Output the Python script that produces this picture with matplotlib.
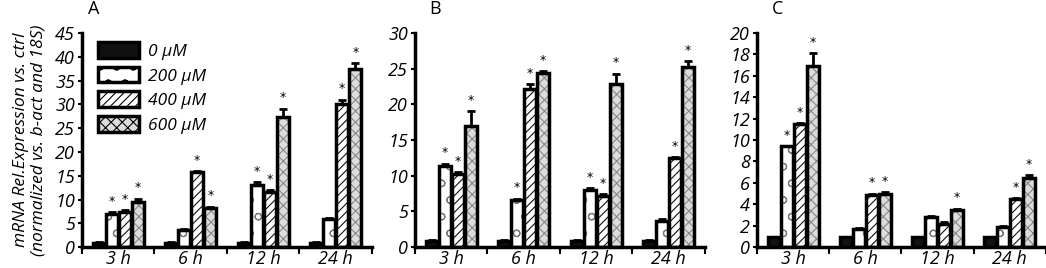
import numpy as np
import matplotlib
matplotlib.use("Agg")
import matplotlib.pyplot as plt
from matplotlib.patches import Patch

plt.rcParams['font.family'] = ['Open Sans', 'DejaVu Sans']
plt.rcParams['hatch.linewidth'] = 0.8

# 数据
times = ['3 h', '6 h', '12 h', '24 h']
doses = ['0 µM', '200 µM', '400 µM', '600 µM']

a_vals = [[0.8, 0.8, 0.8, 0.8],
          [7.0, 3.5, 13.0, 5.9],
          [7.4, 15.7, 11.5, 30.0],
          [9.4, 8.2, 27.3, 37.5]]
a_err = [[0.2, 0.2, 0.2, 0.2],
         [0.3, 0.2, 0.6, 0.3],
         [0.3, 0.3, 0.5, 1.0],
         [0.8, 0.3, 1.8, 1.2]]
a_sig = [[0, 0, 0, 0], [1, 0, 1, 0], [1, 1, 1, 1], [1, 1, 1, 1]]

b_vals = [[0.9, 0.9, 0.9, 0.9],
          [11.4, 6.6, 8.0, 3.7],
          [10.2, 22.2, 7.2, 12.5],
          [17.0, 24.4, 22.8, 25.2]]
b_err = [[0.1, 0.1, 0.1, 0.1],
         [0.3, 0.2, 0.3, 0.2],
         [0.3, 0.6, 0.2, 0.1],
         [2.0, 0.3, 1.5, 0.9]]
b_sig = [[0, 0, 0, 0], [1, 1, 1, 0], [1, 1, 1, 1], [1, 1, 1, 1]]

c_vals = [[0.9, 0.9, 0.9, 0.9],
          [9.4, 1.7, 2.8, 1.9],
          [11.5, 4.9, 2.2, 4.5],
          [16.9, 5.0, 3.5, 6.5]]
c_err = [[0.05, 0.05, 0.05, 0.05],
         [0.05, 0.05, 0.1, 0.1],
         [0.05, 0.1, 0.1, 0.1],
         [1.2, 0.1, 0.1, 0.2]]
c_sig = [[0, 0, 0, 0], [1, 0, 0, 0], [1, 1, 0, 1], [1, 1, 1, 1]]

panels = [('A', a_vals, a_err, a_sig, 45, 5),
          ('B', b_vals, b_err, b_sig, 30, 5),
          ('C', c_vals, c_err, c_sig, 20, 2)]

# 样式
faces = ['#111111', 'white', 'white', '#dcdcdc']
hatches = [None, 'o', '////', 'xxx']
hatch_cols = ['#111111', '#777777', '#111111', '#888888']

fig = plt.figure(figsize=(10.46, 2.68), dpi=100)
lefts = [0.0784, 0.3967, 0.7237]
width = 0.2772
bw = 0.165
step = 0.18

for k, (name, vals, errs, sig, ymax, ystep) in enumerate(panels):
    ax = fig.add_axes([lefts[k], 0.078, width if k < 2 else 0.276, 0.799])
    x = np.arange(len(times))
    for i in range(4):
        pos = x + 0.5 + (i - 1.5) * step
        v = np.array(vals[i])
        e = np.array(errs[i])
        ax.bar(pos, v, bw, color=faces[i], edgecolor=hatch_cols[i],
               hatch=hatches[i], linewidth=0, zorder=2)
        ax.bar(pos, v, bw, color='none', edgecolor='black', linewidth=2.5, zorder=3)
        ax.errorbar(pos, v, yerr=[np.zeros_like(e), e], fmt='none',
                    ecolor='black', elinewidth=2, capsize=3, capthick=2, zorder=4)
        for j in range(4):
            if sig[i][j]:
                ax.text(pos[j], v[j] + e[j] + ymax * 0.02, '*', ha='center',
                        va='bottom', fontsize=9, family='DejaVu Sans')
    ax.set_xlim(0, 4)
    ax.set_ylim(0, ymax)
    ax.set_yticks(np.arange(0, ymax + 0.1, ystep))
    ax.set_yticklabels([str(int(t)) for t in np.arange(0, ymax + 0.1, ystep)],
                       fontsize=13, style='italic')
    ax.set_xticks([0, 1, 2, 3, 4])
    ax.set_xticklabels([])
    ax.set_xticks(x + 0.5, minor=True)
    ax.set_xticklabels(times, minor=True, fontsize=13, style='italic')
    ax.tick_params(axis='x', which='minor', length=0, pad=2)
    ax.tick_params(axis='x', which='major', length=5, width=1.5, direction='out')
    ax.tick_params(axis='y', length=3, width=1.5, pad=2)
    for s in ['top', 'right']:
        ax.spines[s].set_visible(False)
    for s in ['left', 'bottom']:
        ax.spines[s].set_linewidth(2.5)
    ax.text(0.02 if k == 0 else 0.05, 1.07, name, transform=ax.transAxes,
            fontsize=13, ha='left', va='bottom')
    if k == 0:
        ax.set_ylabel('mRNA Rel.Expression vs. ctrl\n(normalized vs. b-act and 18S)',
                      fontsize=12.5, style='italic', labelpad=6, linespacing=1.15)
        handles = [Patch(facecolor=faces[i], edgecolor='black', linewidth=2.5,
                         hatch=hatches[i]) for i in range(4)]
        leg = ax.legend(handles, doses, loc='upper left', bbox_to_anchor=(0.0, 1.03),
                        frameon=False, prop={'style': 'italic', 'size': 12.5},
                        handlelength=2.4, handleheight=1.0, labelspacing=0.4,
                        handletextpad=0.5)

fig.savefig('out.png', dpi=100)
